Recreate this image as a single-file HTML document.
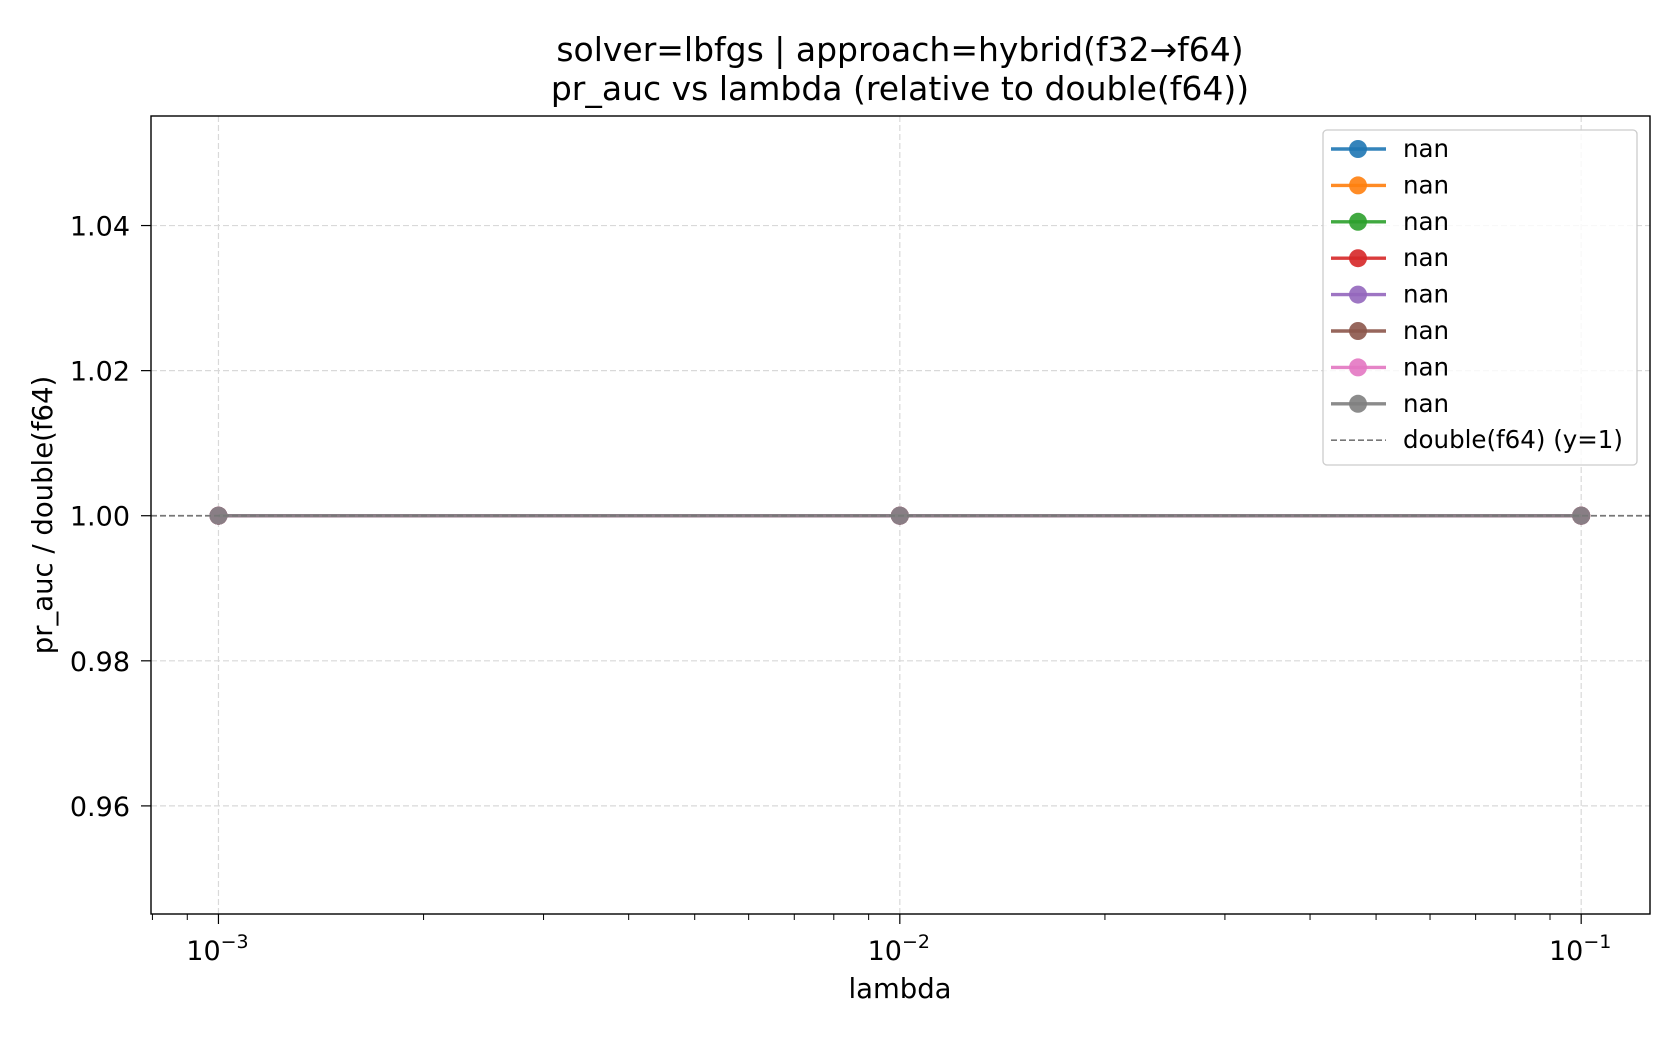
<!DOCTYPE html>
<html><head><meta charset="utf-8"><style>
body{margin:0;background:#fff;}
svg text{font-family:"DejaVu Sans","Liberation Sans",sans-serif;fill:#000;}
</style></head><body>
<svg id="chart" width="1680" height="1040" viewBox="0 0 1680 1040" xmlns="http://www.w3.org/2000/svg">
<rect width="1680" height="1040" fill="#fff"/>
<text x="900" y="61" font-size="33" text-anchor="middle">solver=lbfgs | approach=hybrid(f32→f64)</text>
<text x="900" y="100" font-size="33" text-anchor="middle">pr_auc vs lambda (relative to double(f64))</text>
<g id="grid"></g><g id="series"></g><g id="axes"></g><g id="legend"></g>
<text x="900" y="998" font-size="27.5" text-anchor="middle">lambda</text>
<text x="0" y="0" font-size="27.5" text-anchor="middle" transform="translate(52,515) rotate(-90)">pr_auc / double(f64)</text>
</svg>
<script>
const lambdas=[0.001,0.01,0.1];
const seriesNames=["nan","nan","nan","nan","nan","nan","nan","nan"];
const seriesValues=[[1,1,1],[1,1,1],[1,1,1],[1,1,1],[1,1,1],[1,1,1],[1,1,1],[1,1,1]];
const yTicks=[0.96,0.98,1.00,1.02,1.04];
const xTicks=[0.001,0.01,0.1];
const xTickExp=["−3","−2","−1"];
const refValue=1;
const colors=["#1f77b4","#ff7f0e","#2ca02c","#d62728","#9467bd","#8c564b","#e377c2","#7f7f7f"];
const L=151,R=1650,T=116,B=914;
const xMin=-3.099,xMax=-0.899,yMin=0.9451,yMax=1.0551;
const NS="http://www.w3.org/2000/svg";
function xs(v){return L+(Math.log10(v)-xMin)/(xMax-xMin)*(R-L);}
function ys(v){return B-(v-yMin)/(yMax-yMin)*(B-T);}
function mk(tag,attrs,parent){const e=document.createElementNS(NS,tag);for(const k in attrs)e.setAttribute(k,attrs[k]);parent.appendChild(e);return e;}
const grid=document.getElementById('grid'),axes=document.getElementById('axes'),ser=document.getElementById('series'),leg=document.getElementById('legend');
xTicks.forEach((t,i)=>{const x=xs(t);
 const g=mk('line',{x1:x,x2:x,y1:T,y2:B,stroke:'#d9d9d9','stroke-width':1.2,'stroke-dasharray':'6,3'},grid);
 
 
 const tk=mk('line',{x1:x,x2:x,y1:B,y2:B+10,stroke:'#000','stroke-width':1.2},axes);
 
 
 const tx=mk('text',{x:x-1,y:B+46,'font-size':27,'text-anchor':'middle'},axes);
 
 
 tx.textContent='10';
 const sp=mk('tspan',{dy:-12,'font-size':19},tx);sp.textContent=xTickExp[i];
});
for(let d=-4;d<0;d++)for(let m=2;m<10;m++){const v=m*Math.pow(10,d);const lv=Math.log10(v);if(lv<xMin||lv>xMax)continue;
 const x=xs(v);const tk=mk('line',{x1:x,x2:x,y1:B,y2:B+6,stroke:'#000','stroke-width':1},axes);
 
 }
yTicks.forEach(t=>{const y=ys(t);
 const g=mk('line',{x1:L,x2:R,y1:y,y2:y,stroke:'#d9d9d9','stroke-width':1.2,'stroke-dasharray':'6,3'},grid);
 
 
 const tk=mk('line',{x1:L-10,x2:L,y1:y,y2:y,stroke:'#000','stroke-width':1.2},axes);
 
 
 const tx=mk('text',{x:L-21,y:y+10,'font-size':27,'text-anchor':'end'},axes);
 
 
 tx.textContent=t.toFixed(2);
});
const fr=mk('rect',{x:L,y:T,width:R-L,height:B-T,fill:'none',stroke:'#000','stroke-width':1.4},axes);


seriesValues.forEach((vals,s)=>{
 const pts=vals.map((v,i)=>xs(lambdas[i])+','+ys(v)).join(' ');
 const pl=mk('polyline',{points:pts,fill:'none',stroke:colors[s],'stroke-width':3.4,opacity:0.9},ser);
 
 
 vals.forEach((v,i)=>{const c=mk('circle',{cx:xs(lambdas[i]),cy:ys(v),r:9,fill:colors[s],opacity:0.9},ser);
  
  });
});
const ref=mk('line',{x1:L,x2:R,y1:ys(refValue),y2:ys(refValue),stroke:'#777','stroke-width':1.7,'stroke-dasharray':'6,3'},ser);


const lb=mk('rect',{x:1323,y:130,width:314,height:335,rx:4,fill:'#fff','fill-opacity':0.8,stroke:'#ccc','stroke-width':1.3},leg);


seriesNames.forEach((n,s)=>{const y=149+s*36.4;
 const g=mk('g',{},leg);
 
 
 mk('line',{x1:1331,x2:1386,y1:y,y2:y,stroke:colors[s],'stroke-width':3.4,opacity:0.9},g);
 mk('circle',{cx:1358,cy:y,r:9,fill:colors[s],opacity:0.9},g);
 const t=mk('text',{x:1403,y:y+8,'font-size':24.5},g);t.textContent=n;
});
{const y=149+8*36.4;const g=mk('g',{},leg);
 
 
 mk('line',{x1:1331,x2:1386,y1:y,y2:y,stroke:'#777','stroke-width':1.7,'stroke-dasharray':'6,3'},g);
 const t=mk('text',{x:1403,y:y+8,'font-size':24.5},g);t.textContent='double(f64) (y=1)';}
</script>
</body></html>
